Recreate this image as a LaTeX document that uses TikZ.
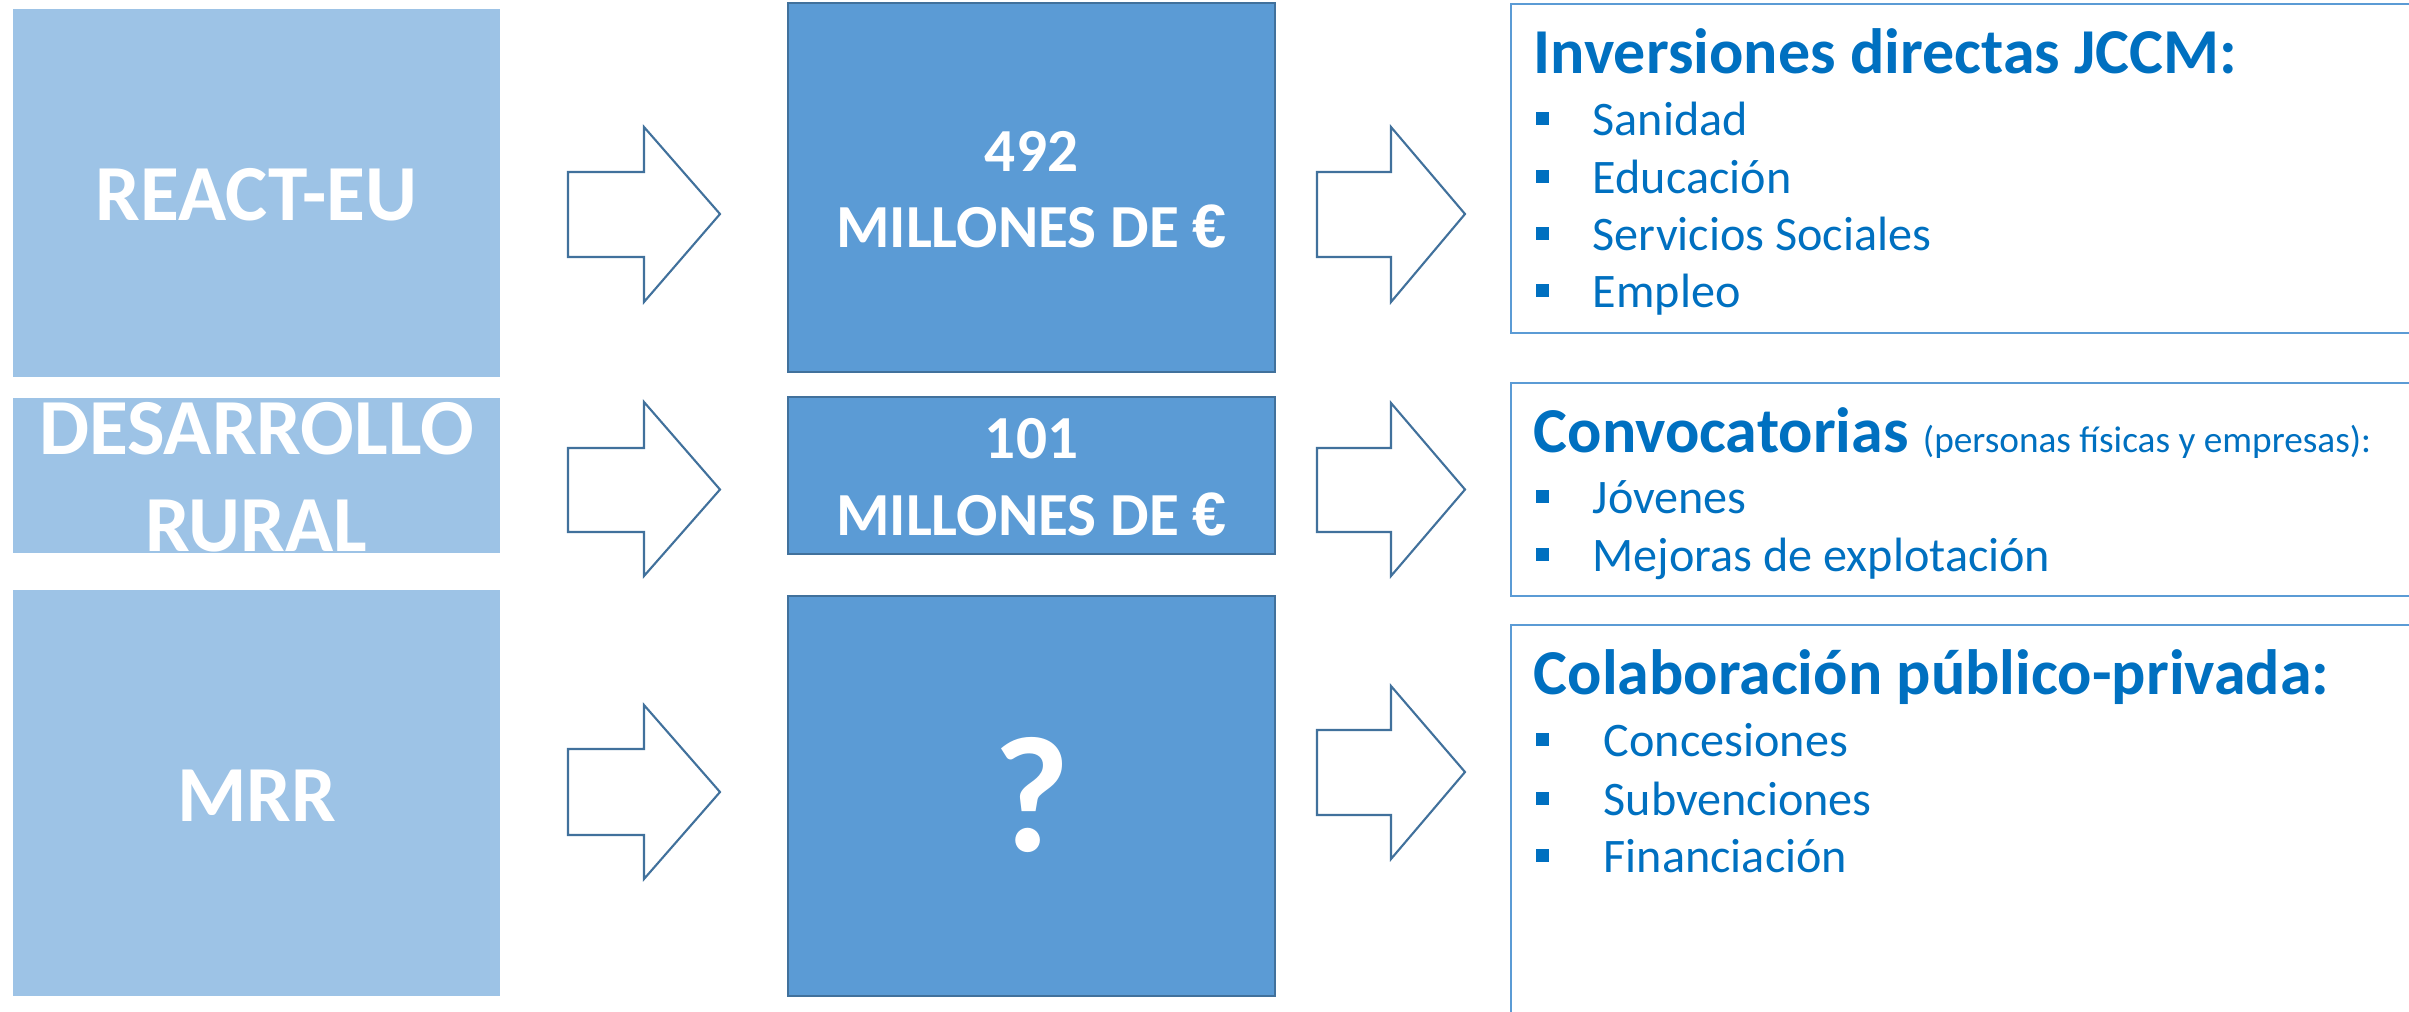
\documentclass[tikz,border=0pt]{standalone}
\usepackage{fontspec}
\setmainfont{Carlito}
\newfontfamily\eurofont{Liberation Sans}
\newcommand{\myeuro}{{\eurofont\bfseries €}}
\definecolor{lightb}{HTML}{9DC3E6}
\definecolor{midb}{HTML}{5B9BD5}
\definecolor{edgeb}{HTML}{41719C}
\definecolor{txtb}{HTML}{0070C0}
\definecolor{frameb}{HTML}{5B9BD5}
\tikzset{
  srcbox/.style={fill=lightb, draw=none, inner sep=0pt, outer sep=0pt},
  amtbox/.style={fill=midb, draw=edgeb, line width=0.7pt, inner sep=0pt, outer sep=0pt},
  outbox/.style={draw=frameb, line width=0.6pt, inner sep=0pt, outer sep=0pt},
  blockarrow/.style={draw=edgeb, fill=white, line width=0.6pt, line join=miter},
  bigwhite/.style={text=white, font=\fontsize{22.6}{26}\selectfont\bfseries, inner sep=0pt, anchor=base},
  amtwhite/.style={text=white, font=\fontsize{17.4}{20}\selectfont\bfseries, inner sep=0pt, anchor=base},
  headtxt/.style={text=txtb, font=\fontsize{18.2}{21}\selectfont\bfseries, inner sep=0pt, anchor=base west},
  itemtxt/.style={text=txtb, font=\fontsize{13.7}{16}\selectfont, inner sep=0pt, anchor=base west},
  bulletsq/.style={fill=txtb}
}
\begin{document}
\begin{tikzpicture}[x=0.01cm, y=-0.01cm]
\useasboundingbox (0,0) rectangle (2409,1011);
% source boxes
\node[srcbox, minimum width=4.87cm, minimum height=3.68cm] (s1) at (256.5,193) {};
\node[srcbox, minimum width=4.87cm, minimum height=1.55cm] (s2) at (256.5,475.5) {};
\node[srcbox, minimum width=4.87cm, minimum height=4.06cm] (s3) at (256.5,793) {};
\node[bigwhite] (t1) at (256.5,220) {REACT-EU};
\node[bigwhite] (t2a) at (256.5,454) {DESARROLLO};
\node[bigwhite] (t2b) at (256.5,551) {RURAL};
\node[bigwhite] (t3) at (256.5,821) {MRR};
% amount boxes
\node[amtbox, minimum width=4.87cm, minimum height=3.69cm] (m1) at (1031.5,187.5) {};
\node[amtbox, minimum width=4.87cm, minimum height=1.57cm] (m2) at (1031.5,475.5) {};
\node[amtbox, minimum width=4.87cm, minimum height=4.00cm] (m3) at (1031.5,796) {};
\node[amtwhite] (a1a) at (1031.5,171) {492};
\node[amtwhite] (a1b) at (1031.5,247) {MILLONES DE \myeuro};
\node[amtwhite] (a2a) at (1031.5,458.5) {101};
\node[amtwhite] (a2b) at (1031.5,535) {MILLONES DE \myeuro};
\node[amtwhite, font=\fontsize{47}{50}\selectfont\bfseries] (a3) at (1031.5,851) {?};
% output boxes
\node[outbox, minimum width=9.19cm, minimum height=3.29cm] (o1) at (1970.5,168.5) {};
\node[outbox, minimum width=9.19cm, minimum height=2.13cm] (o2) at (1970.5,489.5) {};
\node[outbox, minimum width=9.19cm, minimum height=4.05cm] (o3) at (1970.5,827.5) {};
% left arrows
\draw[blockarrow] (568,172) -- (644,172) -- (644,127) -- (720,214) -- (644,302) -- (644,257) -- (568,257) -- cycle;
\draw[blockarrow] (568,448) -- (644,448) -- (644,402) -- (720,489.5) -- (644,576) -- (644,532) -- (568,532) -- cycle;
\draw[blockarrow] (568,749) -- (644,749) -- (644,705) -- (720,792) -- (644,879) -- (644,835) -- (568,835) -- cycle;
% right arrows
\draw[blockarrow] (1317,172) -- (1391,172) -- (1391,127) -- (1465,214) -- (1391,302) -- (1391,257) -- (1317,257) -- cycle;
\draw[blockarrow] (1317,448) -- (1391,448) -- (1391,403) -- (1465,489.5) -- (1391,576) -- (1391,532) -- (1317,532) -- cycle;
\draw[blockarrow] (1317,730) -- (1391,730) -- (1391,686) -- (1465,772) -- (1391,859) -- (1391,815) -- (1317,815) -- cycle;
% box 1 text
\node[headtxt] (h1) at (1533,73) {Inversiones directas JCCM:};
\foreach \b/\t [count=\i] in {135/Sanidad,193/Educación,250/Servicios Sociales,307/Empleo}{
  \fill[bulletsq] (1536,\b-23) rectangle (1549,\b-10);
  \node[itemtxt] (i1\i) at (1592,\b) {\t};
}
% box 2 text
\node[headtxt] (h2) at (1533,452) {Convocatorias {\mdseries\fontsize{10.6}{12}\selectfont (personas físicas y empresas):}};
\foreach \b/\t [count=\i] in {513/Jóvenes,571/Mejoras de explotación}{
  \fill[bulletsq] (1536,\b-23) rectangle (1549,\b-10);
  \node[itemtxt] (i2\i) at (1592,\b) {\t};
}
% box 3 text
\node[headtxt] (h3) at (1533,694) {Colaboración público-privada:};
\foreach \b/\t [count=\i] in {756/Concesiones,815/Subvenciones,872/Financiación}{
  \fill[bulletsq] (1536,\b-23) rectangle (1549,\b-10);
  \node[itemtxt] (i3\i) at (1603,\b) {\t};
}
\end{tikzpicture}
\end{document}
